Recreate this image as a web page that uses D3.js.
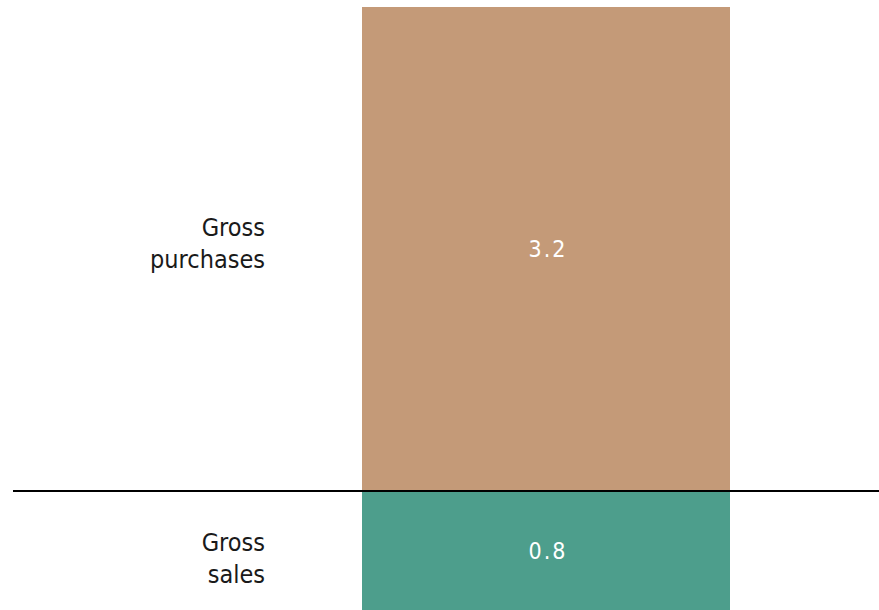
<!DOCTYPE html>
<html>
<head>
<meta charset="utf-8">
<script src="https://cdn.jsdelivr.net/npm/d3@7/dist/d3.min.js"></script>
<style>
  html, body { margin: 0; padding: 0; background: #ffffff; }
  svg { display: block; }
</style>
</head>
<body>
<svg id="chart" width="879" height="610"></svg>
<script>
// Gross flows, split above (purchases) and below (sales) the zero line
const categories = ["Gross purchases", "Gross sales"];
const labelLines = [["Gross", "purchases"], ["Gross", "sales"]];
const values = [3.2, -0.8];
const valueLabels = ["3.2", "0.8"];
const colors = ["#C49A78", "#4D9E8C"];

const width = 879, height = 610;
const svg = d3.select("#chart");
const font = "'DejaVu Sans Condensed', 'DejaVu Sans', sans-serif";

// One stacked column, centred in the band
const x = d3.scaleBand().domain(["flows"]).range([362, 730]).padding(0);
const y = d3.scaleLinear().domain([-0.8, 3.2]).range([height + 2, 7]);

const bars = categories.map((c, i) => ({
  cat: c, value: values[i], label: valueLabels[i], lines: labelLines[i], color: colors[i]
}));

svg.selectAll("rect.bar")
  .data(bars)
  .join("rect")
  .attr("class", "bar")
  .attr("x", x("flows"))
  .attr("width", x.bandwidth())
  .attr("y", d => y(Math.max(0, d.value)))
  .attr("height", d => Math.abs(y(d.value) - y(0)))
  .attr("fill", d => d.color);

// Value labels in the middle of each segment
svg.selectAll("text.value")
  .data(bars)
  .join("text")
  .attr("class", "value")
  .attr("x", x("flows") + x.bandwidth() / 2 + 2)
  .attr("y", d => (y(d.value) + y(0)) / 2)
  .attr("dy", "0.33em")
  .attr("text-anchor", "middle")
  .attr("fill", "#ffffff")
  .style("font-family", font)
  .style("font-size", "23px")
  .style("letter-spacing", "2px")
  .text(d => d.label);

// Category labels to the left, nudged away from the zero line
const lineH = 32;
const cats = svg.selectAll("text.cat")
  .data(bars)
  .join("text")
  .attr("class", "cat")
  .attr("text-anchor", "end")
  .attr("fill", "#1a1a1a")
  .style("font-family", font)
  .style("font-size", "25px");

cats.each(function(d) {
  const mid = (y(d.value) + y(0)) / 2;
  const shift = d.value >= 0 ? -6 : 6;
  const n = d.lines.length;
  const firstBaseline = mid + shift - (n - 1) * lineH / 2 + 9;
  d3.select(this).selectAll("tspan")
    .data(d.lines)
    .join("tspan")
    .attr("x", 265)
    .attr("y", (t, j) => firstBaseline + j * lineH)
    .text(t => t);
});

// Zero line
svg.append("line")
  .attr("x1", 13)
  .attr("x2", width)
  .attr("y1", y(0))
  .attr("y2", y(0))
  .attr("stroke", "#000000")
  .attr("stroke-width", 2);
</script>
</body>
</html>
